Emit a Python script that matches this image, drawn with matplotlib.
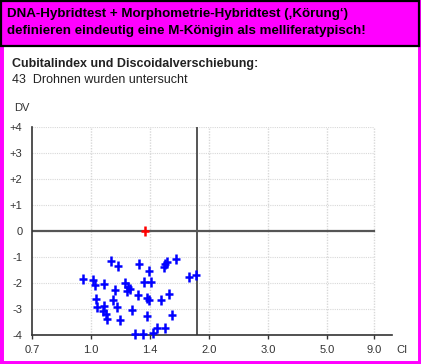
import numpy as np
import matplotlib.pyplot as plt
from matplotlib.patches import Rectangle

plt.rcParams['font.family'] = ['Liberation Sans', 'DejaVu Sans']

# Achse CI: ungleichmaessige Skala, Werte -> Position
ci_ticks = [0.7, 1.0, 1.4, 2.0, 3.0, 5.0, 9.0]
ci_labels = ['0.7', '1.0', '1.4', '2.0', '3.0', '5.0', '9.0']
ci_pos = [0.0, 1.0, 2.0, 3.0, 4.0, 5.0, 5.8]
dv_ticks = [4, 3, 2, 1, 0, -1, -2, -3, -4]
dv_labels = ['+4', '+3', '+2', '+1', '0', '-1', '-2', '-3', '-4']

# Drohnen (CI, DV)
ci = [1.136, 1.185, 1.325, 1.393, 1.556, 1.576, 1.542, 1.661, 0.961, 1.012,
      1.027, 1.086, 1.233, 1.249, 1.264, 1.242, 1.361, 1.410, 1.800, 1.868,
      1.163, 1.319, 1.382, 1.395, 1.512, 1.590, 1.034, 1.039, 1.090, 1.079,
      1.102, 1.147, 1.178, 1.276, 1.378, 1.627, 1.197, 1.107, 1.298, 1.354,
      1.434, 1.474, 1.556]
dv = [-1.14, -1.33, -1.25, -1.52, -1.27, -1.21, -1.37, -1.06, -1.84, -1.88,
      -2.06, -2.03, -2.01, -2.16, -2.22, -2.29, -1.97, -1.97, -1.78, -1.69,
      -2.25, -2.48, -2.56, -2.64, -2.64, -2.44, -2.60, -2.92, -2.90, -3.09,
      -3.20, -2.67, -2.92, -3.05, -3.28, -3.24, -3.43, -3.40, -3.96, -3.96,
      -3.94, -3.72, -3.74]
mean_ci, mean_dv = 1.366, 0.0
ci_limit = 1.88

map_ci = ci_ticks + [12.0]
map_pos = ci_pos + [6.1]


def fwd(x):
    return np.interp(x, map_ci, map_pos)


def inv(p):
    return np.interp(p, map_pos, map_ci)


W, H = 421, 364
fig = plt.figure(figsize=(W / 100, H / 100), dpi=100)

# Rahmen
fig.patches.append(Rectangle((0, 0), 1, 1, transform=fig.transFigure, zorder=-2,
                             facecolor='white', edgecolor='#ff00ff', linewidth=5))
fig.patches.append(Rectangle((1 / W, 1 - 46 / H), 418 / W, 45 / H, transform=fig.transFigure,
                             zorder=-1, facecolor='#ff00ff', edgecolor='black', linewidth=1.6))

fig.text(7 / W, 1 - 14 / H, 'DNA-Hybridtest + Morphometrie-Hybridtest (\u201aK\u00f6rung\u2018)',
         fontsize=9.6, fontweight='bold', va='center', ha='left')
fig.text(7 / W, 1 - 31 / H, 'definieren eindeutig eine M-K\u00f6nigin als melliferatypisch!',
         fontsize=9.6, fontweight='bold', va='center', ha='left')

fig.text(12 / W, 1 - 64 / H, 'Cubitalindex und Discoidalverschiebung:',
         fontsize=9, fontweight='bold', va='center', color='#222222')
fig.text(12 / W, 1 - 80 / H, '43  Drohnen wurden untersucht',
         fontsize=9, va='center', color='#222222')
fig.text(14 / W, 1 - 108 / H, 'DV', fontsize=8, va='center', color='#333333')
fig.text(396 / W, 1 - 350 / H, 'CI', fontsize=8, va='center', color='#333333')

ax = fig.add_axes([32 / W, 29 / H, 360 / W, 208 / H])
ax.set_xscale('function', functions=(fwd, inv))
ax.set_xlim(0.7, 12.0)
ax.set_ylim(-4, 4)

# Gitter
for y in dv_ticks:
    ax.plot([0.7, 9.0], [y, y], color='#d8d8d8', lw=0.8, ls=(0, (1, 1)), zorder=1)
for x in ci_ticks[1:]:
    ax.plot([x, x], [-4, 4], color='#d8d8d8', lw=1.0, ls=(0, (1, 1)), zorder=1)

ax.plot([0.7, 9.0], [0, 0], color='#555555', lw=1.6, zorder=2)
ax.plot([ci_limit, ci_limit], [-4, 4], color='#555555', lw=1.4, zorder=2)

ax.plot(ci, dv, ls='none', marker='|', ms=7.5, mew=1.8, color='#0000ff', zorder=3, clip_on=False)
ax.plot(ci, dv, ls='none', marker='_', ms=5.5, mew=1.8, color='#0000ff', zorder=3, clip_on=False)
ax.plot([mean_ci], [mean_dv], ls='none', marker='|', ms=7.5, mew=1.8, color='#ff0000', zorder=4)
ax.plot([mean_ci], [mean_dv], ls='none', marker='_', ms=5.5, mew=1.8, color='#ff0000', zorder=4)

ax.set_xticks(ci_ticks)
ax.set_xticklabels(ci_labels)
ax.minorticks_off()
ax.set_yticks(dv_ticks)
ax.set_yticklabels(dv_labels)
ax.tick_params(axis='x', length=3, width=1, pad=4, labelsize=8, colors='#333333')
ax.tick_params(axis='y', length=0, pad=7, labelsize=8, colors='#333333')

for s in ['top', 'right']:
    ax.spines[s].set_visible(False)
for s in ['left', 'bottom']:
    ax.spines[s].set_color('#333333')
    ax.spines[s].set_linewidth(1.2)
ax.patch.set_alpha(0)

fig.savefig('out.png', dpi=100)
